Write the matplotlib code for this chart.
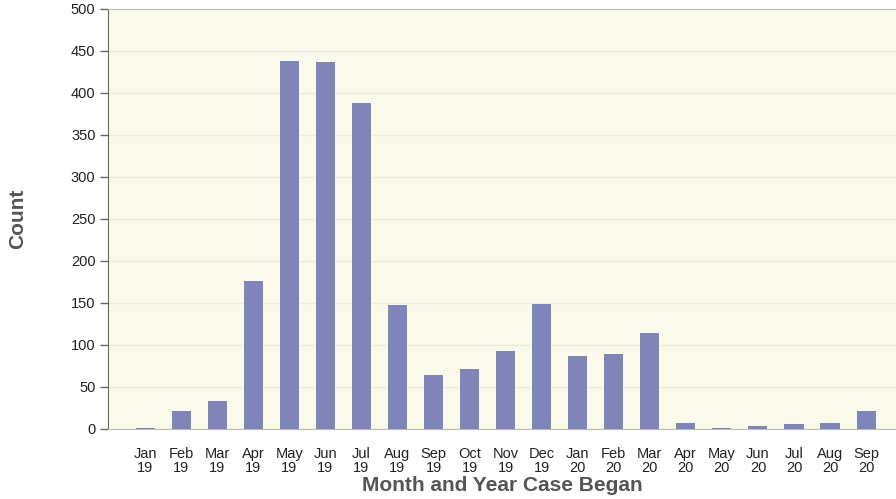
import matplotlib
matplotlib.use("Agg")
import matplotlib.pyplot as plt

months = ["Jan\n19", "Feb\n19", "Mar\n19", "Apr\n19", "May\n19", "Jun\n19", "Jul\n19",
          "Aug\n19", "Sep\n19", "Oct\n19", "Nov\n19", "Dec\n19", "Jan\n20", "Feb\n20",
          "Mar\n20", "Apr\n20", "May\n20", "Jun\n20", "Jul\n20", "Aug\n20", "Sep\n20"]
counts = [1, 21, 33, 176, 438, 437, 388, 148, 64, 71, 93, 149, 87, 89, 114, 7, 1, 4, 6, 7, 21]
yticks = [0, 50, 100, 150, 200, 250, 300, 350, 400, 450, 500]

plt.rcParams['font.family'] = ['Liberation Sans', 'DejaVu Sans']

fig = plt.figure(figsize=(8.96, 4.99), dpi=100)
ax = fig.add_axes([108/896, 70/499, 1 - 108/896, 420/499])
ax.set_facecolor('#FAFAEA')

x = list(range(len(months)))
ax.bar(x, counts, width=0.53, color='#7F85B8', zorder=3)

ax.set_ylim(0, 500)
ax.set_xlim(-1.03, 20.83)
ax.set_yticks(yticks)
ax.set_yticklabels([str(v) for v in yticks], fontsize=10.5, color='#222222')
ax.set_xticks(x)
ax.set_xticklabels(months, fontsize=10.5, color='#222222', linespacing=1.0)
ax.tick_params(axis='x', length=0, pad=13)
ax.tick_params(axis='y', length=6, width=1, color='#666666', pad=3)

ax.grid(axis='y', color='#EDEDDC', linewidth=1, zorder=0)
ax.set_axisbelow(True)

ax.spines['right'].set_visible(False)
ax.spines['left'].set_color('#666666')
ax.spines['top'].set_color('#BBBBBB')
ax.spines['bottom'].set_color('#BBBBBB')

ax.set_ylabel('Count', fontsize=15, fontweight='bold', color='#555555')
ax.yaxis.set_label_coords((27 - 108) / 788, 0.5)
ax.set_xlabel('Month and Year Case Began', fontsize=15, fontweight='bold', color='#555555', labelpad=1)

fig.savefig('out.png', dpi=100)
